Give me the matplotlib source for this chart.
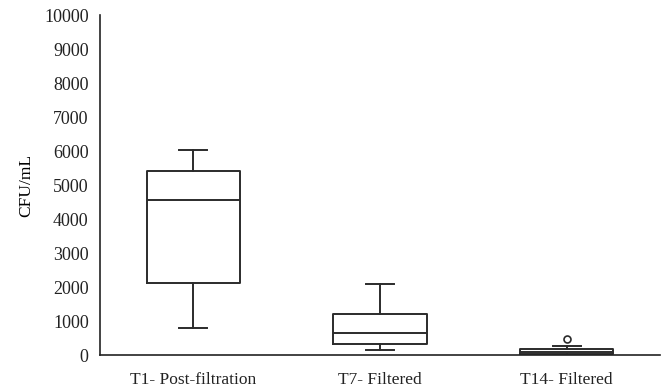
import matplotlib
matplotlib.use("Agg")
import matplotlib.pyplot as plt

categories = ["T1- Post-filtration", "T7- Filtered", "T14- Filtered"]
whisker_low = [794, 147, 0]
q1 = [2126, 324, 40]
median = [4550, 647, 80]
q3 = [5412, 1206, 170]
whisker_high = [6029, 2088, 265]
outliers = [[], [], [470]]
yticks = [0, 1000, 2000, 3000, 4000, 5000, 6000, 7000, 8000, 9000, 10000]

plt.rcParams['font.family'] = ['Liberation Serif', 'DejaVu Serif']

fig = plt.figure(figsize=(6.7, 3.9), dpi=100)
ax = fig.add_axes([0.149, 0.0897, 0.836, 0.8718])

stats = []
for i, lab in enumerate(categories):
    stats.append(dict(label=lab, whislo=whisker_low[i], q1=q1[i], med=median[i],
                      q3=q3[i], whishi=whisker_high[i], fliers=outliers[i]))

lc = '#2b2b2b'
lw = 1.4
ax.bxp(stats, positions=[1, 2, 3], widths=0.5, capwidths=0.15, showfliers=True,
       boxprops=dict(color=lc, linewidth=lw),
       medianprops=dict(color=lc, linewidth=lw),
       whiskerprops=dict(color=lc, linewidth=lw),
       capprops=dict(color=lc, linewidth=lw),
       flierprops=dict(marker='o', markerfacecolor='white', markeredgecolor=lc,
                       markersize=5, markeredgewidth=1.2))

ax.set_xlim(0.5, 3.5)
ax.set_ylim(0, 10000)
ax.set_yticks(yticks)
ax.set_yticklabels([str(t) for t in yticks], fontsize=13)
ax.set_xticks([1, 2, 3])
ax.set_xticklabels(categories, fontsize=12.5)
ax.tick_params(axis='both', length=0, colors='#222222')
ax.tick_params(axis='y', pad=8)
ax.tick_params(axis='x', pad=12)
ax.spines['top'].set_visible(False)
ax.spines['right'].set_visible(False)
ax.spines['left'].set_color('#222222')
ax.spines['bottom'].set_color('#222222')
ax.spines['left'].set_linewidth(1.2)
ax.spines['bottom'].set_linewidth(1.2)
ax.set_ylabel("CFU/mL", fontsize=12.5)
ax.yaxis.set_label_coords(-0.1165, 0.5)

fig.savefig("out.png", dpi=100)
